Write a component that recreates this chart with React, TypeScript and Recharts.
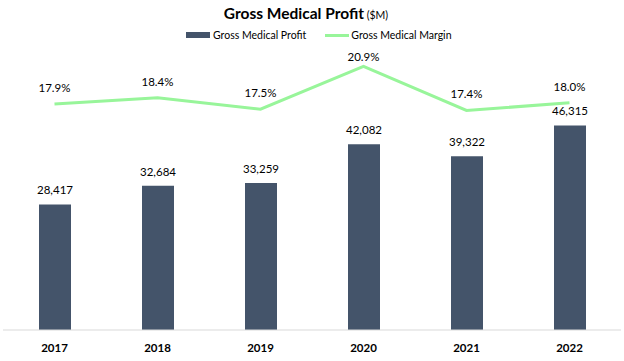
import { ComposedChart, Bar, Line, XAxis, YAxis, LabelList } from "recharts"

const years = ["2017", "2018", "2019", "2020", "2021", "2022"]
const grossProfit = [28417, 32684, 33259, 42082, 39322, 46315]
const grossMargin = [0.179, 0.184, 0.175, 0.209, 0.174, 0.18]

const BAR_COLOR = "#44546A"
const LINE_COLOR = "#98F59A"
const FONT = "Lato, 'Open Sans', sans-serif"

const data = years.map((year, i) => ({ year, profit: grossProfit[i], margin: grossMargin[i] }))

const MarginLabel = (props: any) => {
    const { x, y, value } = props
    return (
        <text x={x} y={Math.max(y - 12, 61)} textAnchor="middle" fontSize={11.5} fill="#000" fontFamily={FONT}>
            {(value * 100).toFixed(1)}%
        </text>
    )
}

const ProfitLabel = (props: any) => {
    const { x, y, width, value } = props
    return (
        <text x={x + width / 2} y={y - 10} textAnchor="middle" fontSize={11.5} fill="#000" fontFamily={FONT}>
            {value.toLocaleString("en-US")}
        </text>
    )
}

const App = () => {
    return (
        <div style={{ position: "absolute", left: 0, top: 0, width: 624, height: 361, background: "#fff", fontFamily: FONT }}>
            <div style={{ position: "absolute", top: 3, left: 0, width: 612, textAlign: "center", color: "#000" }}>
                <span style={{ fontWeight: 700, fontSize: 15.5 }}>Gross Medical Profit</span>
                <span style={{ fontSize: 10.5 }}> ($M)</span>
            </div>
            <div style={{ position: "absolute", top: 29, left: 186, display: "flex", alignItems: "center", fontSize: 10.5, color: "#000" }}>
                <span style={{ display: "inline-block", width: 24, height: 6, background: BAR_COLOR, marginRight: 3 }} />
                <span>Gross Medical Profit</span>
                <span style={{ display: "inline-block", width: 24, height: 3, background: LINE_COLOR, marginLeft: 19, marginRight: 2 }} />
                <span>Gross Medical Margin</span>
            </div>
            <ComposedChart width={624} height={361} data={data} margin={{ top: 65, right: 3, bottom: 0, left: 3 }}>
                <XAxis
                    dataKey="year"
                    height={31}
                    tickLine={false}
                    axisLine={{ stroke: "#D9D9D9" }}
                    tick={{ fontSize: 11.5, fontWeight: 700, fill: "#000", fontFamily: FONT }}
                    dy={6}
                />
                <YAxis yAxisId="left" hide domain={[0, 60000]} />
                <YAxis yAxisId="right" hide orientation="right" domain={[0, 0.21]} />
                <Bar yAxisId="left" dataKey="profit" fill={BAR_COLOR} barSize={32} isAnimationActive={false}>
                    <LabelList dataKey="profit" content={ProfitLabel} />
                </Bar>
                <Line
                    yAxisId="right"
                    dataKey="margin"
                    stroke={LINE_COLOR}
                    strokeWidth={3}
                    dot={false}
                    type="linear"
                    isAnimationActive={false}
                >
                    <LabelList dataKey="margin" content={MarginLabel} />
                </Line>
            </ComposedChart>
        </div>
    )
}

export default App
